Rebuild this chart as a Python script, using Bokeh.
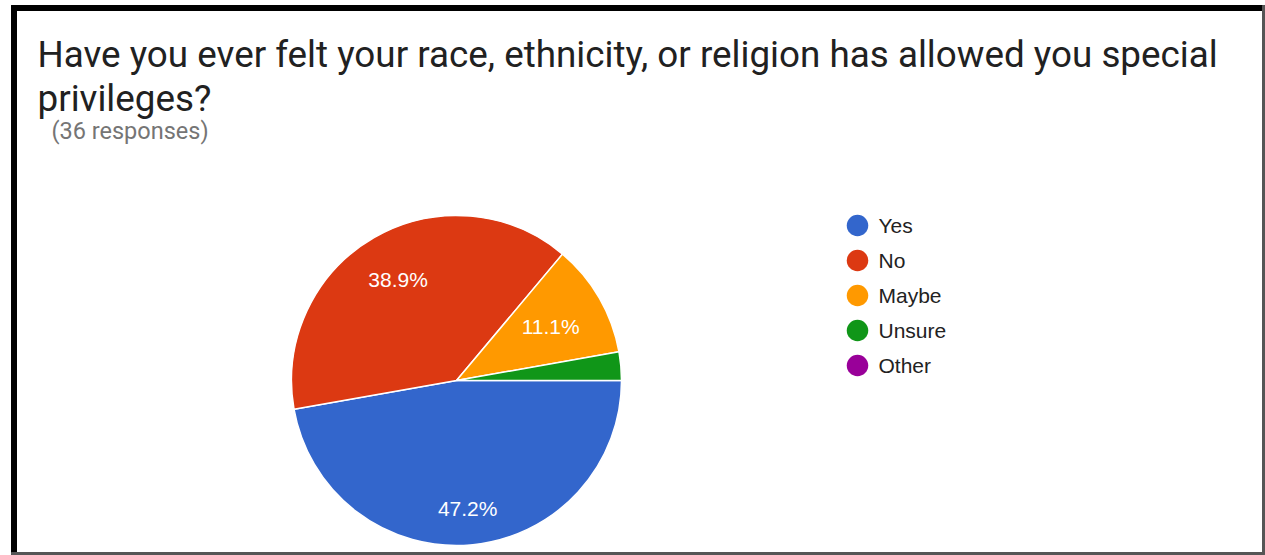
import numpy as np
from bokeh.plotting import figure
from bokeh.models import Range1d, ColumnDataSource
from bokeh.embed import file_html
from bokeh.resources import INLINE
from bokeh.core.properties import value

# ---- data ----
categories = ["Yes", "No", "Maybe", "Unsure", "Other"]
counts = [17, 14, 4, 1, 0]
colors = ["#3366cc", "#dc3912", "#ff9900", "#109618", "#990099"]
title_lines = ["Have you ever felt your race, ethnicity, or religion has allowed you special",
               "privileges?"]
subtitle = "(36 responses)"

# ---- layout (picture pixel space) ----
W, H = 1265, 555


def Y(sy):
    return H - sy


CX, CY, R = 456, 380, 165
LABEL_FS = 21

p = figure(width=W, height=H, output_backend="svg", toolbar_location=None,
           x_range=Range1d(0, W), y_range=Range1d(0, H), min_border=0,
           x_axis_type=None, y_axis_type=None)
p.grid.visible = False
p.outline_line_color = None
p.background_fill_color = "white"
p.border_fill_color = "white"

# frame
p.quad(left=[11], right=[16], bottom=[Y(554)], top=[Y(5)], color="black")
p.quad(left=[11], right=[1264], bottom=[Y(10)], top=[Y(5)], color="black")
p.quad(left=[1262], right=[1264], bottom=[Y(554)], top=[Y(5)], color="#555555")
p.quad(left=[11], right=[1264], bottom=[Y(554)], top=[Y(552)], color="#555555")

# title
p.text(x=[37, 37], y=[Y(53.5), Y(97.5)], text=title_lines,
       text_font=value("Roboto"), text_font_size="36.8px", text_color="#212121",
       text_baseline="alphabetic", text_align="left")
p.text(x=[51], y=[Y(130.5)], text=[subtitle],
       text_font=value("Roboto"), text_font_size="23.5px", text_color="#757575",
       text_baseline="alphabetic", text_align="left")

# pie
total = sum(counts)
fr = np.array(counts, dtype=float) / total
cum = np.concatenate([[0.0], np.cumsum(fr)])
start = -2 * np.pi * cum[:-1]
end = -2 * np.pi * cum[1:]
mask = fr > 0
src = ColumnDataSource(dict(start=start[mask], end=end[mask],
                            color=list(np.array(colors)[mask])))
p.wedge(x=CX, y=Y(CY), radius=R, start_angle="start", end_angle="end",
        direction="clock", fill_color="color", line_color="white",
        line_width=1.5, source=src)

# slice labels
lx, ly, lt = [], [], []
for f, c0, c1 in zip(fr, cum[:-1], cum[1:]):
    if f < 0.05:
        continue
    mid = np.pi * (c0 + c1)
    txt = f"{f * 100:.1f}%"
    hw = len(txt) * LABEL_FS * 0.57 / 2
    hh = LABEL_FS * 0.38
    ext = hw * abs(np.cos(mid)) + hh * abs(np.sin(mid))
    r = 0.84 * R - ext
    lx.append(CX + r * np.cos(mid))
    ly.append(Y(CY) - r * np.sin(mid))
    lt.append(txt)
p.text(x=lx, y=ly, text=lt, text_align="center", text_baseline="middle",
       text_font=value("Liberation Sans"), text_font_size=f"{LABEL_FS}px",
       text_color="white")

# legend
leg_y = [Y(225 + 35 * i) for i in range(len(categories))]
p.scatter(x=[857] * len(categories), y=leg_y, size=21.5, fill_color=colors,
          line_color=None)
p.text(x=[878] * len(categories), y=leg_y, text=categories,
       text_baseline="middle", text_align="left",
       text_font=value("Liberation Sans"), text_font_size="21px",
       text_color="#222222")

open("out.html", "w").write(file_html(p, INLINE))
